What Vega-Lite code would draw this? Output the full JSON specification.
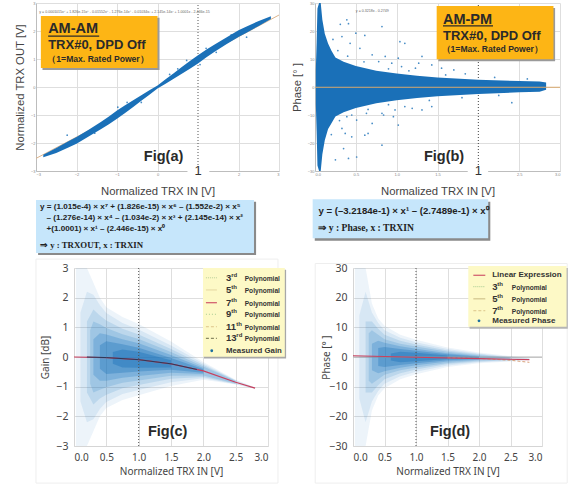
{"$schema":"https://vega.github.io/schema/vega-lite/v6.json","padding":{"left":14,"top":1,"right":0,"bottom":0},"background":"white","config":{"view":{"stroke":null},"font":"Liberation Sans","text":{"font":"Liberation Sans","align":"left","baseline":"middle"},"axis":{"labelFont":"Liberation Sans","titleFont":"Liberation Sans","titleFontWeight":"normal","ticks":false,"gridColor":"#dedede","domainColor":"#bdbdbd"}},"bounds":"flush","spacing":0,"vconcat":[
{"bounds":"flush","spacing":36,"hconcat":[
{"width":243,"height":168,"encoding":{"x":{"field":"x","type":"quantitative","scale":{"domain":[-3,3],"nice":false},"axis":{"values":[-3,-2,-1,0,2,3],"labelFontSize":4,"labelColor":"#888","labelPadding":1,"title":"Normalized TRX IN [V]","titleFontSize":11.3,"titleColor":"#444","titlePadding":9}},"y":{"field":"y","type":"quantitative","scale":{"domain":[-3,3],"nice":false},"axis":{"values":[-3,-2,-1,0,1,2,3],"labelFontSize":4,"labelColor":"#888","labelPadding":1,"title":"Normalized TRX OUT [V]","titleFontSize":11.3,"titleColor":"#444","titlePadding":5}}},"layer":[
{"data":{"values":[{"x":1,"y":-3,"y2":3}]},"mark":{"type":"rule","color":"#555","strokeDash":[1,2],"strokeWidth":1},"encoding":{"y2":{"field":"y2"}}},
{"data":{"values":[{"x":-3,"y":-2.55},{"x":-1.5,"y":-1.41},{"x":0,"y":0},{"x":1.5,"y":1.41},{"x":3,"y":2.57}]},"mark":{"type":"line","color":"#dcb48c","strokeWidth":1}},
{"data":{"values":[{"x":-2.82,"y":-2.51,"y2":-2.42},{"x":-2.5,"y":-2.36,"y2":-2.18},{"x":-2.2,"y":-2.16,"y2":-1.94},{"x":-2,"y":-2.03,"y2":-1.79},{"x":-1.7,"y":-1.77,"y2":-1.53},{"x":-1.4,"y":-1.51,"y2":-1.25},{"x":-1.2,"y":-1.33,"y2":-1.05},{"x":-1,"y":-1.135,"y2":-0.835},{"x":-0.8,"y":-0.93,"y2":-0.65},{"x":-0.6,"y":-0.71,"y2":-0.47},{"x":-0.4,"y":-0.495,"y2":-0.295},{"x":-0.2,"y":-0.28,"y2":-0.12},{"x":0,"y":-0.05,"y2":0.05},{"x":0.2,"y":0.12,"y2":0.28},{"x":0.4,"y":0.295,"y2":0.495},{"x":0.6,"y":0.47,"y2":0.71},{"x":0.8,"y":0.65,"y2":0.93},{"x":1,"y":0.835,"y2":1.135},{"x":1.2,"y":1.05,"y2":1.33},{"x":1.4,"y":1.25,"y2":1.51},{"x":1.7,"y":1.53,"y2":1.77},{"x":2,"y":1.79,"y2":2.03},{"x":2.2,"y":1.94,"y2":2.16},{"x":2.5,"y":2.18,"y2":2.36},{"x":2.8,"y":2.43,"y2":2.53}]},"mark":{"type":"area","color":"#1a70b8"},"encoding":{"y2":{"field":"y2"}}},
{"data":{"values":[{"x":-2.23,"y":-1.72},{"x":-0.98,"y":-0.72},{"x":-1.15,"y":-1.2},{"x":-0.75,"y":-0.55},{"x":0.72,"y":0.95},{"x":0.5,"y":0.65},{"x":1.2,"y":1.38},{"x":1.45,"y":1.24},{"x":2.2,"y":1.78},{"x":1.82,"y":1.86},{"x":1.05,"y":0.8},{"x":-1.55,"y":-1.65},{"x":-0.4,"y":-0.55},{"x":0.3,"y":0.45}]},"mark":{"type":"point","filled":true,"size":3,"color":"#1a70b8","opacity":0.8}},
{"data":{"values":[{"x":0.74,"y":-2.79,"x2":1.28,"y2":-3.21}]},"mark":{"type":"rect","color":"#fff"},"encoding":{"x2":{"field":"x2"},"y2":{"field":"y2"}}},
{"data":{"values":[{"x":-2.84,"y":2.47,"x2":0.05,"y2":0.61}]},"mark":{"type":"rect","color":"#9a9a9a"},"encoding":{"x2":{"field":"x2"},"y2":{"field":"y2"}}},
{"data":{"values":[{"x":-2.88,"y":2.54,"x2":0,"y2":0.68}]},"mark":{"type":"rect","color":"#fdb515"},"encoding":{"x2":{"field":"x2"},"y2":{"field":"y2"}}},
{"data":{"values":[{"x":-2.7,"x2":-1.44,"y":1.82}]},"mark":{"type":"rule","color":"#2a2a2a","strokeWidth":1.2},"encoding":{"x2":{"field":"x2"}}},
{"data":{"values":[{"x":-2.7,"y":2.07,"t":"AM-AM"}]},"mark":{"type":"text","fontSize":14.5,"fontWeight":"bold","color":"#2a2a2a"},"encoding":{"text":{"field":"t"}}},
{"data":{"values":[{"x":-2.7,"y":1.5,"t":"TRX#0, DPD Off"}]},"mark":{"type":"text","fontSize":13,"fontWeight":"bold","color":"#2a2a2a"},"encoding":{"text":{"field":"t"}}},
{"data":{"values":[{"x":-2.72,"y":1.0,"t":"（1=Max. Rated Power）"}]},"mark":{"type":"text","fontSize":8.6,"fontWeight":"bold","color":"#2a2a2a"},"encoding":{"text":{"field":"t"}}},
{"data":{"values":[{"x":-2.92,"y":2.68,"t":"y = 0.0001015x⁷ + 1.826e-15x⁶ - 0.01552x⁵ - 1.276e-14x⁴ - 0.01034x³ + 2.145e-14x² + 1.0001x - 2.446e-15"}]},"mark":{"type":"text","fontSize":3.6,"color":"#666"},"encoding":{"text":{"field":"t"}}},
{"data":{"values":[{"x":0.15,"y":-2.5,"t":"Fig(a)"}]},"mark":{"type":"text","align":"center","fontSize":14.5,"fontWeight":"bold","color":"#2a2a2a"},"encoding":{"text":{"field":"t"}}},
{"data":{"values":[{"x":1,"y":-3,"t":"1"}]},"mark":{"type":"text","align":"center","fontSize":13,"color":"#333"},"encoding":{"text":{"field":"t"}}}
]},
{"width":245,"height":168,"encoding":{"x":{"field":"x","type":"quantitative","scale":{"domain":[0,3],"nice":false},"axis":{"values":[0,0.5,1,1.5,2.5,3],"labelFontSize":4,"labelColor":"#888","labelPadding":1,"title":"Normalized TRX IN [V]","titleFontSize":11.3,"titleColor":"#444","titlePadding":9}},"y":{"field":"y","type":"quantitative","scale":{"domain":[-30,30],"nice":false},"axis":{"values":[-30,-20,-10,0,10,20,30],"labelFontSize":4,"labelColor":"#888","labelPadding":1,"title":"Phase [°   ]","titleFontSize":11.3,"titleColor":"#444","titlePadding":5}}},"layer":[
{"data":{"values":[{"x":2,"y":-30,"y2":30}]},"mark":{"type":"rule","color":"#444","strokeDash":[1,2],"strokeWidth":1},"encoding":{"y2":{"field":"y2"}}},
{"data":{"values":[{"x":0.01,"y":-6,"y2":6},{"x":0.02,"y":-16,"y2":16},{"x":0.03,"y":-28,"y2":28},{"x":0.05,"y":-30,"y2":30},{"x":0.07,"y":-30,"y2":30},{"x":0.09,"y":-24,"y2":24},{"x":0.12,"y":-19,"y2":19},{"x":0.16,"y":-15,"y2":15.5},{"x":0.2,"y":-13,"y2":13},{"x":0.25,"y":-10.5,"y2":10.5},{"x":0.35,"y":-9,"y2":9},{"x":0.5,"y":-7.5,"y2":7.5},{"x":0.75,"y":-5.8,"y2":5.8},{"x":1,"y":-4.7,"y2":4.8},{"x":1.25,"y":-3.9,"y2":4},{"x":1.5,"y":-3.3,"y2":3.4},{"x":2,"y":-2.5,"y2":2.6},{"x":2.5,"y":-1.9,"y2":2.1},{"x":2.75,"y":-1.7,"y2":2},{"x":2.83,"y":-1,"y2":1.6}]},"mark":{"type":"area","color":"#1a70b8"},"encoding":{"y2":{"field":"y2"}}},
{"data":{"values":[{"x":0.39,"y":24},{"x":0.31,"y":22.4},{"x":0.41,"y":22.6},{"x":0.5,"y":19.2},{"x":0.61,"y":18.4},{"x":0.82,"y":21.6},{"x":1.04,"y":16.2},{"x":1.1,"y":15.6},{"x":1.02,"y":10.3},{"x":1.27,"y":8.5},{"x":1.31,"y":10.9},{"x":1.23,"y":6.7},{"x":0.86,"y":10.9},{"x":0.7,"y":11.5},{"x":0.55,"y":13.8},{"x":0.43,"y":15.6},{"x":0.33,"y":18},{"x":0.94,"y":8.5},{"x":1.43,"y":7.9},{"x":1.55,"y":6.7},{"x":1.7,"y":6.1},{"x":1.84,"y":4.7},{"x":1.06,"y":7.3},{"x":0.78,"y":9.1},{"x":0.37,"y":-16.6},{"x":0.35,"y":-22},{"x":0.41,"y":-25.5},{"x":0.51,"y":-25},{"x":0.65,"y":-16.6},{"x":0.82,"y":-20.8},{"x":0.61,"y":-17.2},{"x":0.84,"y":-10},{"x":0.98,"y":-8.2},{"x":1.1,"y":-7},{"x":1.02,"y":-13.6},{"x":0.96,"y":-10.6},{"x":0.82,"y":-9.4},{"x":1.31,"y":-8.2},{"x":1.43,"y":-7},{"x":2.41,"y":-5.6},{"x":0.63,"y":-9.4},{"x":0.51,"y":-11.8},{"x":0.45,"y":-17.8},{"x":0.25,"y":-26},{"x":0.33,"y":-14.8},{"x":0.39,"y":-10.6},{"x":0.7,"y":-13},{"x":1.19,"y":-7.6},{"x":0.22,"y":17},{"x":0.28,"y":13},{"x":0.4,"y":11},{"x":0.6,"y":9},{"x":0.9,"y":6.5},{"x":1.15,"y":5.8},{"x":1.6,"y":4.3},{"x":2.2,"y":3.4},{"x":2.6,"y":2.9},{"x":0.2,"y":-17},{"x":0.3,"y":-12},{"x":0.45,"y":-10},{"x":0.65,"y":-8},{"x":0.9,"y":-6.3},{"x":1.4,"y":-4.8},{"x":1.8,"y":-3.8},{"x":2.25,"y":-3}]},"mark":{"type":"point","filled":true,"size":3,"color":"#1a70b8","opacity":0.8}},
{"data":{"values":[{"x":0,"y":-0.1},{"x":3,"y":-0.1}]},"mark":{"type":"line","color":"#d9a86c","strokeWidth":1}},
{"data":{"values":[{"x":1.87,"y":-28,"x2":2.12,"y2":-33}]},"mark":{"type":"rect","color":"#fff"},"encoding":{"x2":{"field":"x2"},"y2":{"field":"y2"}}},
{"data":{"values":[{"x":1.51,"y":28.2,"x2":2.94,"y2":9.2}]},"mark":{"type":"rect","color":"#9a9a9a"},"encoding":{"x2":{"field":"x2"},"y2":{"field":"y2"}}},
{"data":{"values":[{"x":1.49,"y":28.9,"x2":2.92,"y2":9.9}]},"mark":{"type":"rect","color":"#fdb515"},"encoding":{"x2":{"field":"x2"},"y2":{"field":"y2"}}},
{"data":{"values":[{"x":1.567,"x2":2.18,"y":21.8}]},"mark":{"type":"rule","color":"#2a2a2a","strokeWidth":1.2},"encoding":{"x2":{"field":"x2"}}},
{"data":{"values":[{"x":1.567,"y":24,"t":"AM-PM"}]},"mark":{"type":"text","fontSize":14.5,"fontWeight":"bold","color":"#2a2a2a"},"encoding":{"text":{"field":"t"}}},
{"data":{"values":[{"x":1.567,"y":18.2,"t":"TRX#0, DPD Off"}]},"mark":{"type":"text","fontSize":13,"fontWeight":"bold","color":"#2a2a2a"},"encoding":{"text":{"field":"t"}}},
{"data":{"values":[{"x":1.55,"y":13.6,"t":"（1=Max. Rated Power）"}]},"mark":{"type":"text","fontSize":8.6,"fontWeight":"bold","color":"#2a2a2a"},"encoding":{"text":{"field":"t"}}},
{"data":{"values":[{"x":0.5,"y":27.3,"t":"y = 0.3218x - 0.2749"}]},"mark":{"type":"text","fontSize":3.6,"color":"#666"},"encoding":{"text":{"field":"t"}}},
{"data":{"values":[{"x":1.58,"y":-25,"t":"Fig(b)"}]},"mark":{"type":"text","align":"center","fontSize":14.5,"fontWeight":"bold","color":"#2a2a2a"},"encoding":{"text":{"field":"t"}}},
{"data":{"values":[{"x":2,"y":-30,"t":"1"}]},"mark":{"type":"text","align":"center","fontSize":13,"color":"#333"},"encoding":{"text":{"field":"t"}}}
]}
]},
{"width":20,"height":181,"data":{"values":[{"s":1}]},"mark":{"type":"rule","opacity":0},"encoding":{}},
{"width":524,"height":84,"encoding":{"x":{"field":"x","type":"quantitative","scale":{"domain":[0,100],"nice":false},"axis":null},"y":{"field":"y","type":"quantitative","scale":{"domain":[118.3,0],"nice":false},"axis":null}},"layer":[
{"data":{"values":[{"x":0.4,"y":25,"x2":42,"y2":100},{"x":53.2,"y":25,"x2":86.7,"y2":80}]},"mark":{"type":"rect","color":"#8a8a8a"},"encoding":{"x2":{"field":"x2"},"y2":{"field":"y2"}}},
{"data":{"values":[{"x":0,"y":22.5,"x2":41.6,"y2":97.2},{"x":52.8,"y":21.6,"x2":86.3,"y2":76.5}]},"mark":{"type":"rect","color":"#c6e6fb"},"encoding":{"x2":{"field":"x2"},"y2":{"field":"y2"}}},
{"data":{"values":[{"x":0.76,"y":32.8,"t":"y = (1.015e-4) × x⁷ + (1.826e-15) × x⁶ – (1.552e-2) × x⁵"},{"x":2,"y":48.3,"t":"– (1.276e-14) × x⁴ – (1.034e-2) × x³ + (2.145e-14) × x²"},{"x":2,"y":63.8,"t":"+(1.0001) × x¹ – (2.446e-15) × x⁰"}]},"mark":{"type":"text","fontSize":8.1,"fontWeight":"bold","color":"#222"},"encoding":{"text":{"field":"t"}}},
{"data":{"values":[{"x":0.76,"y":86.3,"t":"⇒ y : TRXOUT,  x : TRXIN"}]},"mark":{"type":"text","font":"Liberation Serif","fontSize":8.8,"fontWeight":"bold","color":"#222"},"encoding":{"text":{"field":"t"}}},
{"data":{"values":[{"x":53.9,"y":62.4,"t":"⇒ y : Phase,  x : TRXIN"}]},"mark":{"type":"text","font":"Liberation Serif","fontSize":9.6,"fontWeight":"bold","color":"#222"},"encoding":{"text":{"field":"t"}}},
{"data":{"values":[{"x":53.9,"y":37.6,"t":"y = (–3.2184e-1) × x¹ – (2.7489e-1) × x⁰"}]},"mark":{"type":"text","fontSize":9.6,"fontWeight":"bold","color":"#222"},"encoding":{"text":{"field":"t"}}}
]},
{"bounds":"flush","spacing":0,"hconcat":[
{"width":38,"height":178,"data":{"values":[{"s":1}]},"mark":{"type":"rule","opacity":0},"encoding":{}},
{"width":194,"height":178,"encoding":{"x":{"field":"x","type":"quantitative","scale":{"domain":[0,3],"nice":false},"axis":{"values":[0,0.5,1,1.5,2,2.5,3],"format":".1f","labelFont":"Noto Sans","labelFontSize":10,"labelColor":"#444","labelPadding":6,"title":"Normalized TRX IN [V]","titleFont":"Noto Sans","titleFontSize":10,"titleColor":"#444","titlePadding":4,"domainColor":"#d5d5d5"}},"y":{"field":"y","type":"quantitative","scale":{"domain":[-3,3],"nice":false},"axis":{"values":[-3,-2,-1,0,1,2,3],"labelFont":"Noto Sans","labelFontSize":10.5,"labelColor":"#444","labelPadding":6,"title":"Gain [dB]","titleFont":"Noto Sans","titleFontSize":10,"titleColor":"#444","titlePadding":5,"domainColor":"#d5d5d5"}}},"layer":[
{"data":{"values":[{"x":-0.588,"y":3.3,"x2":3.154,"y2":-4.25}]},"mark":{"type":"rect","fill":null,"stroke":"#eeeeee","strokeWidth":1},"encoding":{"x2":{"field":"x2"},"y2":{"field":"y2"}}},
{"data":{"values":[
{"x":0.03,"y":-3,"y2":3,"l":"a"},{"x":0.1,"y":-3,"y2":3,"l":"a"},{"x":0.2,"y":-3,"y2":3,"l":"a"},{"x":0.3,"y":-2.5,"y2":2.5,"l":"a"},{"x":0.4,"y":-2,"y2":2,"l":"a"},{"x":0.5,"y":-1.72,"y2":1.68,"l":"a"},{"x":0.75,"y":-1.45,"y2":1.35,"l":"a"},{"x":1,"y":-1.29,"y2":1.11,"l":"a"},{"x":1.5,"y":-0.98,"y2":0.52,"l":"a"},{"x":2,"y":-0.77,"y2":-0.17,"l":"a"},{"x":2.5,"y":-0.93,"y2":-0.77,"l":"a"},{"x":2.8,"y":-1.07,"y2":-1.03,"l":"a"},
{"x":0.1,"y":-1.5,"y2":1.5,"l":"b"},{"x":0.2,"y":-2.2,"y2":2.2,"l":"b"},{"x":0.3,"y":-2.1,"y2":2.1,"l":"b"},{"x":0.4,"y":-1.75,"y2":1.75,"l":"b"},{"x":0.5,"y":-1.52,"y2":1.48,"l":"b"},{"x":0.75,"y":-1.25,"y2":1.15,"l":"b"},{"x":1,"y":-1.11,"y2":0.93,"l":"b"},{"x":1.5,"y":-0.85,"y2":0.39,"l":"b"},{"x":2,"y":-0.72,"y2":-0.22,"l":"b"},{"x":2.5,"y":-0.92,"y2":-0.78,"l":"b"},{"x":2.8,"y":-1.07,"y2":-1.03,"l":"b"},
{"x":0.2,"y":-1.2,"y2":1.2,"l":"c"},{"x":0.3,"y":-1.6,"y2":1.6,"l":"c"},{"x":0.4,"y":-1.4,"y2":1.4,"l":"c"},{"x":0.5,"y":-1.27,"y2":1.23,"l":"c"},{"x":0.75,"y":-1.05,"y2":0.95,"l":"c"},{"x":1,"y":-0.94,"y2":0.76,"l":"c"},{"x":1.5,"y":-0.73,"y2":0.27,"l":"c"},{"x":2,"y":-0.67,"y2":-0.27,"l":"c"},{"x":2.5,"y":-0.91,"y2":-0.79,"l":"c"},
{"x":0.25,"y":-0.9,"y2":0.9,"l":"d"},{"x":0.3,"y":-1.2,"y2":1.2,"l":"d"},{"x":0.4,"y":-1.1,"y2":1.1,"l":"d"},{"x":0.5,"y":-1.02,"y2":0.98,"l":"d"},{"x":0.75,"y":-0.87,"y2":0.77,"l":"d"},{"x":1,"y":-0.79,"y2":0.61,"l":"d"},{"x":1.5,"y":-0.63,"y2":0.17,"l":"d"},{"x":2,"y":-0.62,"y2":-0.32,"l":"d"},{"x":2.5,"y":-0.89,"y2":-0.81,"l":"d"},
{"x":0.3,"y":-0.6,"y2":0.6,"l":"e"},{"x":0.4,"y":-0.8,"y2":0.8,"l":"e"},{"x":0.5,"y":-0.8,"y2":0.76,"l":"e"},{"x":0.75,"y":-0.7,"y2":0.6,"l":"e"},{"x":1,"y":-0.64,"y2":0.46,"l":"e"},{"x":1.5,"y":-0.53,"y2":0.07,"l":"e"},{"x":2,"y":-0.57,"y2":-0.37,"l":"e"},
{"x":0.4,"y":-0.4,"y2":0.4,"l":"f"},{"x":0.5,"y":-0.57,"y2":0.53,"l":"f"},{"x":0.75,"y":-0.53,"y2":0.43,"l":"f"},{"x":1,"y":-0.49,"y2":0.31,"l":"f"},{"x":1.5,"y":-0.43,"y2":-0.03,"l":"f"},{"x":2,"y":-0.53,"y2":-0.41,"l":"f"},
{"x":0.6,"y":-0.23,"y2":0.17,"l":"g"},{"x":0.75,"y":-0.35,"y2":0.25,"l":"g"},{"x":1,"y":-0.36,"y2":0.18,"l":"g"},{"x":1.5,"y":-0.35,"y2":-0.11,"l":"g"}
]},"mark":{"type":"area"},"encoding":{"y2":{"field":"y2"},"color":{"field":"l","type":"nominal","legend":null,"scale":{"domain":["a","b","c","d","e","f","g"],"range":["rgba(26,120,194,0.08)","rgba(26,120,194,0.1)","rgba(26,120,194,0.14)","rgba(26,120,194,0.18)","rgba(26,120,194,0.26)","rgba(26,112,184,0.32)","rgba(26,112,184,0.4)"]}}}},
{"data":{"values":[{"x":1,"y":-3,"y2":3}]},"mark":{"type":"rule","color":"#555","strokeDash":[1,2],"strokeWidth":1},"encoding":{"y2":{"field":"y2"}}},
{"data":{"values":[{"x":0,"y":0},{"x":0.5,"y":-0.02},{"x":1,"y":-0.09},{"x":1.5,"y":-0.23},{"x":2,"y":-0.47},{"x":2.5,"y":-0.85},{"x":2.8,"y":-1.05}]},"mark":{"type":"line","color":"#c9405e","strokeWidth":1.2}},
{"data":{"values":[{"x":0.2,"y":0},{"x":0.5,"y":-0.02},{"x":1,"y":-0.09},{"x":1.5,"y":-0.23},{"x":1.9,"y":-0.42}]},"mark":{"type":"line","color":"#283a5a","strokeWidth":1}},
{"data":{"values":[{"x":2.01,"y":2.94,"x2":3.28,"y2":-0.05}]},"mark":{"type":"rect","color":"#a8a8a8"},"encoding":{"x2":{"field":"x2"},"y2":{"field":"y2"}}},
{"data":{"values":[{"x":1.995,"y":3,"x2":3.26,"y2":0.01}]},"mark":{"type":"rect","color":"#fdf9c6"},"encoding":{"x2":{"field":"x2"},"y2":{"field":"y2"}}},
{"data":{"values":[{"x":2.04,"x2":2.21,"y":2.67}]},"mark":{"type":"rule","color":"#b9cf9a","strokeDash":[1,1]},"encoding":{"x2":{"field":"x2"}}},
{"data":{"values":[{"x":2.04,"x2":2.21,"y":2.26}]},"mark":{"type":"rule","color":"#e4d6a0"},"encoding":{"x2":{"field":"x2"}}},
{"data":{"values":[{"x":2.04,"x2":2.21,"y":1.83}]},"mark":{"type":"rule","color":"#d0566a","strokeWidth":1.2},"encoding":{"x2":{"field":"x2"}}},
{"data":{"values":[{"x":2.04,"x2":2.21,"y":1.44}]},"mark":{"type":"rule","color":"#a6cc90","strokeDash":[1,2]},"encoding":{"x2":{"field":"x2"}}},
{"data":{"values":[{"x":2.04,"x2":2.21,"y":1.02}]},"mark":{"type":"rule","color":"#dcc58a","strokeDash":[3,2]},"encoding":{"x2":{"field":"x2"}}},
{"data":{"values":[{"x":2.04,"x2":2.21,"y":0.63}]},"mark":{"type":"rule","color":"#6d6d4a","strokeDash":[3,2]},"encoding":{"x2":{"field":"x2"}}},
{"data":{"values":[{"x":2.13,"y":0.21}]},"mark":{"type":"point","filled":true,"size":8,"color":"#1d6f9e","opacity":1}},
{"data":{"values":[{"x":2.35,"y":2.67,"t":"3"},{"x":2.35,"y":2.26,"t":"5"},{"x":2.35,"y":1.83,"t":"7"},{"x":2.35,"y":1.44,"t":"9"},{"x":2.35,"y":1.02,"t":"11"},{"x":2.35,"y":0.63,"t":"13"}]},"mark":{"type":"text","fontSize":9.5,"fontWeight":"bold","color":"#333"},"encoding":{"text":{"field":"t"}}},
{"data":{"values":[{"x":2.43,"y":2.77,"t":"rd"},{"x":2.43,"y":2.36,"t":"th"},{"x":2.43,"y":1.93,"t":"th"},{"x":2.43,"y":1.54,"t":"th"},{"x":2.51,"y":1.12,"t":"th"},{"x":2.51,"y":0.73,"t":"rd"}]},"mark":{"type":"text","fontSize":6,"fontWeight":"bold","color":"#333"},"encoding":{"text":{"field":"t"}}},
{"data":{"values":[{"x":2.64,"y":2.63,"t":"Polynomial"},{"x":2.64,"y":2.22,"t":"Polynomial"},{"x":2.64,"y":1.8,"t":"Polynomial"},{"x":2.64,"y":1.41,"t":"Polynomial"},{"x":2.64,"y":0.99,"t":"Polynomial"},{"x":2.64,"y":0.6,"t":"Polynomial"}]},"mark":{"type":"text","fontSize":6.6,"fontWeight":"bold","color":"#333"},"encoding":{"text":{"field":"t"}}},
{"data":{"values":[{"x":2.35,"y":0.21,"t":"Measured Gain"}]},"mark":{"type":"text","fontSize":7.8,"fontWeight":"bold","color":"#333"},"encoding":{"text":{"field":"t"}}},
{"data":{"values":[{"x":1.449,"y":-2.52,"t":"Fig(c)"}]},"mark":{"type":"text","align":"center","fontSize":14.5,"fontWeight":"bold","color":"#2a2a2a"},"encoding":{"text":{"field":"t"}}}
]},
{"width":85,"height":178,"data":{"values":[{"s":1}]},"mark":{"type":"rule","opacity":0},"encoding":{}},
{"width":189,"height":178,"encoding":{"x":{"field":"x","type":"quantitative","scale":{"domain":[0,3],"nice":false},"axis":{"values":[0,0.5,1,1.5,2,2.5,3],"format":".1f","labelFont":"Noto Sans","labelFontSize":10,"labelColor":"#444","labelPadding":6,"title":"Normalized TRX IN [V]","titleFont":"Noto Sans","titleFontSize":10,"titleColor":"#444","titlePadding":4,"domainColor":"#d5d5d5"}},"y":{"field":"y","type":"quantitative","scale":{"domain":[-30,30],"nice":false},"axis":{"values":[-30,-20,-10,0,10,20,30],"labelFont":"Noto Sans","labelFontSize":10.5,"labelColor":"#444","labelPadding":6,"title":"Phase [°   ]","titleFont":"Noto Sans","titleFontSize":10,"titleColor":"#444","titlePadding":-3,"domainColor":"#d5d5d5"}}},"layer":[
{"data":{"values":[{"x":-0.6,"y":31.5,"x2":3.4,"y2":-42.5}]},"mark":{"type":"rect","fill":null,"stroke":"#eeeeee","strokeWidth":1},"encoding":{"x2":{"field":"x2"},"y2":{"field":"y2"}}},
{"data":{"values":[
{"x":0.03,"y":-30,"y2":30,"l":"a"},{"x":0.1,"y":-30,"y2":30,"l":"a"},{"x":0.2,"y":-30,"y2":30,"l":"a"},{"x":0.3,"y":-18,"y2":18,"l":"a"},{"x":0.4,"y":-13,"y2":13,"l":"a"},{"x":0.5,"y":-10.5,"y2":10.5,"l":"a"},{"x":0.75,"y":-7.5,"y2":7.5,"l":"a"},{"x":1,"y":-5.8,"y2":5.8,"l":"a"},{"x":1.5,"y":-3.4,"y2":3.2,"l":"a"},{"x":2,"y":-2.1,"y2":1.5,"l":"a"},{"x":2.5,"y":-1.5,"y2":0.3,"l":"a"},{"x":2.8,"y":-1,"y2":-0.4,"l":"a"},
{"x":0.1,"y":-14,"y2":14,"l":"b"},{"x":0.2,"y":-22,"y2":22,"l":"b"},{"x":0.3,"y":-15,"y2":15,"l":"b"},{"x":0.4,"y":-11.5,"y2":11.5,"l":"b"},{"x":0.5,"y":-9,"y2":9,"l":"b"},{"x":0.75,"y":-6.5,"y2":6.5,"l":"b"},{"x":1,"y":-5,"y2":5,"l":"b"},{"x":1.5,"y":-2.9,"y2":2.7,"l":"b"},{"x":2,"y":-1.8,"y2":1.2,"l":"b"},{"x":2.5,"y":-1.3,"y2":0.1,"l":"b"},{"x":2.8,"y":-0.9,"y2":-0.5,"l":"b"},
{"x":0.2,"y":-12,"y2":12,"l":"c"},{"x":0.3,"y":-12,"y2":12,"l":"c"},{"x":0.4,"y":-9.5,"y2":9.5,"l":"c"},{"x":0.5,"y":-7.5,"y2":7.5,"l":"c"},{"x":0.75,"y":-5.5,"y2":5.5,"l":"c"},{"x":1,"y":-4.2,"y2":4.2,"l":"c"},{"x":1.5,"y":-2.4,"y2":2.2,"l":"c"},{"x":2,"y":-1.5,"y2":0.9,"l":"c"},{"x":2.5,"y":-1.1,"y2":-0.1,"l":"c"},
{"x":0.25,"y":-8,"y2":8,"l":"d"},{"x":0.3,"y":-9,"y2":9,"l":"d"},{"x":0.4,"y":-7.5,"y2":7.5,"l":"d"},{"x":0.5,"y":-6,"y2":6,"l":"d"},{"x":0.75,"y":-4.5,"y2":4.5,"l":"d"},{"x":1,"y":-3.5,"y2":3.5,"l":"d"},{"x":1.5,"y":-2,"y2":1.8,"l":"d"},{"x":2,"y":-1.2,"y2":0.6,"l":"d"},{"x":2.5,"y":-0.9,"y2":-0.3,"l":"d"},
{"x":0.3,"y":-4.5,"y2":4.5,"l":"e"},{"x":0.4,"y":-5.5,"y2":5.5,"l":"e"},{"x":0.5,"y":-4.8,"y2":4.8,"l":"e"},{"x":0.75,"y":-3.6,"y2":3.6,"l":"e"},{"x":1,"y":-2.8,"y2":2.8,"l":"e"},{"x":1.5,"y":-1.5,"y2":1.3,"l":"e"},{"x":2,"y":-0.9,"y2":0.3,"l":"e"},
{"x":0.4,"y":-3,"y2":3,"l":"f"},{"x":0.5,"y":-3.4,"y2":3.4,"l":"f"},{"x":0.75,"y":-2.7,"y2":2.7,"l":"f"},{"x":1,"y":-2.1,"y2":2.1,"l":"f"},{"x":1.5,"y":-1.1,"y2":0.9,"l":"f"},{"x":2,"y":-0.7,"y2":0.1,"l":"f"},
{"x":0.6,"y":-1.2,"y2":1.2,"l":"g"},{"x":0.75,"y":-1.8,"y2":1.8,"l":"g"},{"x":1,"y":-1.4,"y2":1.4,"l":"g"},{"x":1.5,"y":-0.7,"y2":0.5,"l":"g"}
]},"mark":{"type":"area"},"encoding":{"y2":{"field":"y2"},"color":{"field":"l","type":"nominal","legend":null,"scale":{"domain":["a","b","c","d","e","f","g"],"range":["rgba(26,120,194,0.09)","rgba(26,120,194,0.12)","rgba(26,120,194,0.16)","rgba(26,120,194,0.2)","rgba(26,120,194,0.28)","rgba(26,112,184,0.36)","rgba(26,112,184,0.42)"]}}}},
{"data":{"values":[{"x":1,"y":-30,"y2":30}]},"mark":{"type":"rule","color":"#555","strokeDash":[1,2],"strokeWidth":1},"encoding":{"y2":{"field":"y2"}}},
{"data":{"values":[{"x":0,"y":0},{"x":3,"y":0}]},"mark":{"type":"line","color":"#999","strokeWidth":0.7}},
{"data":{"values":[{"x":1.5,"y":-0.25},{"x":2,"y":-0.5},{"x":2.5,"y":-1.1},{"x":2.8,"y":-1.8}]},"mark":{"type":"line","color":"#d8a07a","strokeWidth":1,"strokeDash":[3,2]}},
{"data":{"values":[{"x":0,"y":0.4},{"x":1,"y":-0.1},{"x":2,"y":-0.55},{"x":2.8,"y":-0.9}]},"mark":{"type":"line","color":"#c9405e","strokeWidth":1.1}},
{"data":{"values":[{"x":1.85,"y":30,"x2":3.41,"y2":9.5}]},"mark":{"type":"rect","color":"#b5b5b5"},"encoding":{"x2":{"field":"x2"},"y2":{"field":"y2"}}},
{"data":{"values":[{"x":1.83,"y":30.67,"x2":3.39,"y2":10.2}]},"mark":{"type":"rect","color":"#fdf9c6"},"encoding":{"x2":{"field":"x2"},"y2":{"field":"y2"}}},
{"data":{"values":[{"x":1.91,"x2":2.1,"y":27.55}]},"mark":{"type":"rule","color":"#d0566a","strokeWidth":1.2},"encoding":{"x2":{"field":"x2"}}},
{"data":{"values":[{"x":1.91,"x2":2.1,"y":23.7}]},"mark":{"type":"rule","color":"#a6cc90","strokeDash":[1,1]},"encoding":{"x2":{"field":"x2"}}},
{"data":{"values":[{"x":1.91,"x2":2.1,"y":19.6}]},"mark":{"type":"rule","color":"#c9b983"},"encoding":{"x2":{"field":"x2"}}},
{"data":{"values":[{"x":1.91,"x2":2.1,"y":15.6}]},"mark":{"type":"rule","color":"#dcc58a","strokeDash":[3,2]},"encoding":{"x2":{"field":"x2"}}},
{"data":{"values":[{"x":2,"y":12.2}]},"mark":{"type":"point","filled":true,"size":8,"color":"#1d6f9e","opacity":1}},
{"data":{"values":[{"x":2.21,"y":27.55,"t":"Linear Expression"},{"x":2.21,"y":12.2,"t":"Measured Phase"}]},"mark":{"type":"text","fontSize":8,"fontWeight":"bold","color":"#333"},"encoding":{"text":{"field":"t"}}},
{"data":{"values":[{"x":2.21,"y":23.7,"t":"3"},{"x":2.21,"y":19.6,"t":"5"},{"x":2.21,"y":15.6,"t":"7"}]},"mark":{"type":"text","fontSize":9.5,"fontWeight":"bold","color":"#333"},"encoding":{"text":{"field":"t"}}},
{"data":{"values":[{"x":2.29,"y":24.7,"t":"th"},{"x":2.29,"y":20.6,"t":"th"},{"x":2.29,"y":16.6,"t":"th"}]},"mark":{"type":"text","fontSize":6,"fontWeight":"bold","color":"#333"},"encoding":{"text":{"field":"t"}}},
{"data":{"values":[{"x":2.52,"y":23.3,"t":"Polynomial"},{"x":2.52,"y":19.2,"t":"Polynomial"},{"x":2.52,"y":15.2,"t":"Polynomial"}]},"mark":{"type":"text","fontSize":6.6,"fontWeight":"bold","color":"#333"},"encoding":{"text":{"field":"t"}}},
{"data":{"values":[{"x":1.54,"y":-25.2,"t":"Fig(d)"}]},"mark":{"type":"text","align":"center","fontSize":14.5,"fontWeight":"bold","color":"#2a2a2a"},"encoding":{"text":{"field":"t"}}}
]}
]}
]}
